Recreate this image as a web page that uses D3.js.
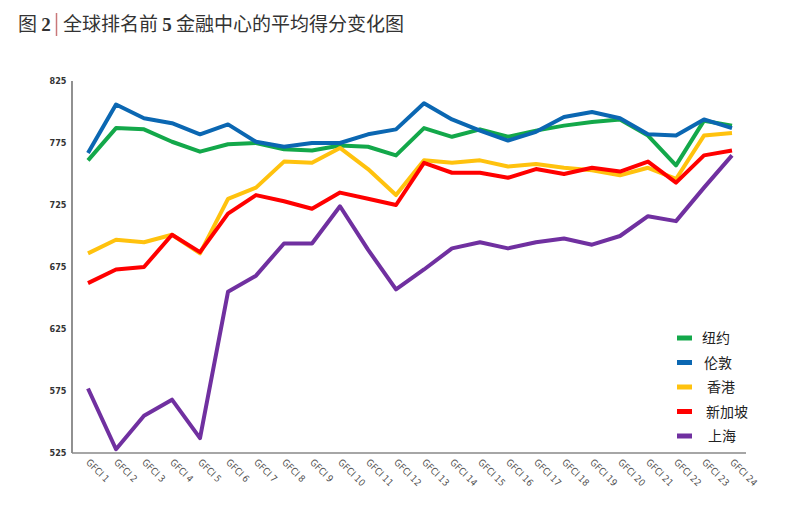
<!DOCTYPE html>
<html><head><meta charset="utf-8">
<script src="https://cdn.jsdelivr.net/npm/d3@7/dist/d3.min.js"></script>
<style>body{margin:0;background:#fff}svg{display:block}</style>
</head><body>
<script>
const categories = ["GFCI 1","GFCI 2","GFCI 3","GFCI 4","GFCI 5","GFCI 6","GFCI 7","GFCI 8","GFCI 9","GFCI 10","GFCI 11","GFCI 12","GFCI 13","GFCI 14","GFCI 15","GFCI 16","GFCI 17","GFCI 18","GFCI 19","GFCI 20","GFCI 21","GFCI 22","GFCI 23","GFCI 24"];
const newYork   = [761,787,786,776,768,774,775,770,769,773,772,765,787,780,786,780,785,789,792,794,781,757,793,789];
const london    = [767,806,795,791,782,790,776,772,775,775,782,786,807,794,785,777,784,796,800,795,782,781,794,787];
const hongKong  = [686,697,695,701,686,730,739,760,759,771,754,733,761,759,761,756,758,755,753,749,755,746,781,783];
const singapore = [662,673,675,701,687,718,733,728,722,735,730,725,759,751,751,747,754,750,755,752,760,743,765,769];
const shanghai  = [577,528,555,568,537,655,668,694,694,724,689,657,673,690,695,690,695,698,693,700,716,712,739,765];
const seriesNames = ["纽约","伦敦","香港","新加坡","上海"];
const yTicks = [525,575,625,675,725,775,825];

const colors = ["#13a84a","#0b67b2","#ffc20e","#ff0000","#7030a0"];
const seriesData = [newYork, london, hongKong, singapore, shanghai];

const W = 788, H = 506;
const svg = d3.select("body").append("svg").attr("width", W).attr("height", H);

// title
const title = svg.append("text").attr("x", 18).attr("y", 31)
  .attr("font-family", "'Noto Sans CJK SC', sans-serif").attr("font-size", 19).attr("fill", "#333");
title.append("tspan").text("图 ");
title.append("tspan").attr("font-family", "'Liberation Serif', serif").attr("font-weight", "bold").text("2");
svg.append("line").attr("x1", 56.5).attr("x2", 56.5).attr("y1", 13).attr("y2", 36).attr("stroke", "#c9787a").attr("stroke-width", 1.5);
const t2 = svg.append("text").attr("x", 63).attr("y", 31)
  .attr("font-family", "'Noto Sans CJK SC', sans-serif").attr("font-size", 19).attr("fill", "#333");
t2.append("tspan").text("全球排名前 ");
t2.append("tspan").attr("font-family", "'Liberation Serif', serif").attr("font-weight", "bold").text("5");
t2.append("tspan").text(" 金融中心的平均得分变化图");

const mLeft = 72, mRight = 746, mTop = 81, mBottom = 453;
const x = d3.scalePoint().domain(categories).range([88, 732]);
const y = d3.scaleLinear().domain([525, 825]).range([mBottom, mTop]);

// axes
const yAxis = svg.append("g").attr("transform", `translate(${mLeft},0)`)
  .call(d3.axisLeft(y).tickValues(yTicks).tickSize(0).tickPadding(12).tickFormat(d3.format("d")));
yAxis.select(".domain").attr("stroke", "#555").attr("stroke-width", 1.3).attr("d", `M0,${mTop}V${mBottom}`);
yAxis.selectAll("text").attr("font-family", "'Liberation Sans Narrow', 'DejaVu Sans Condensed', sans-serif")
  .attr("font-size", 9).attr("font-weight", "bold").attr("fill", "#333").attr("text-anchor", "middle").attr("dx", -2);

const xAxis = svg.append("g").attr("transform", `translate(0,${mBottom})`)
  .call(d3.axisBottom(x).tickSize(0).tickPadding(0));
xAxis.select(".domain").attr("stroke", "#888").attr("stroke-width", 1.3).attr("d", `M${mLeft},0H${mRight}`);
xAxis.selectAll("text")
  .attr("font-family", "'DejaVu Sans Condensed', sans-serif").attr("font-size", 9.5).attr("fill", "#555")
  .attr("text-anchor", "start").attr("dy", 0)
  .attr("transform", "translate(-3,10) rotate(45)");

// lines
const line = d3.line().x((d, i) => x(categories[i])).y(d => y(d)).curve(d3.curveLinear);
seriesData.forEach((s, k) => {
  svg.append("path").datum(s).attr("d", line).attr("fill", "none")
    .attr("stroke", colors[k]).attr("stroke-width", 4).attr("stroke-linejoin", "round").attr("stroke-linecap", "butt");
});

// legend
const legY = d3.scalePoint().domain(seriesNames).range([338, 436]);
const textX = [702, 704, 707, 706, 708];
const leg = svg.append("g");
seriesNames.forEach((n, k) => {
  leg.append("line").attr("x1", 677).attr("x2", 692).attr("y1", legY(n)).attr("y2", legY(n))
    .attr("stroke", colors[k]).attr("stroke-width", 5);
  leg.append("text").attr("x", textX[k]).attr("y", legY(n) + 5)
    .attr("font-family", "'Noto Sans CJK SC', sans-serif").attr("font-size", 14).attr("fill", "#222").text(n);
});
</script>
</body></html>
